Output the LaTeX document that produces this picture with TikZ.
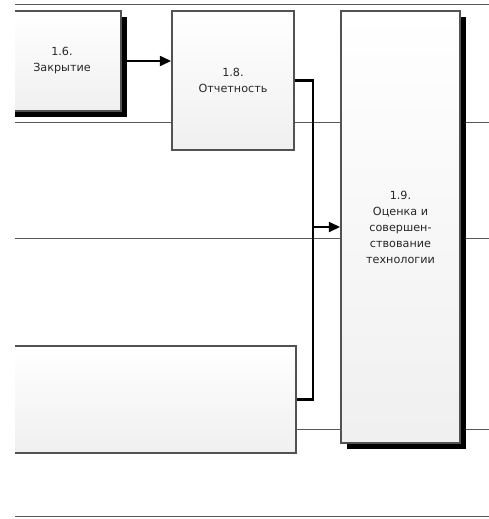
\documentclass[tikz,border=0pt]{standalone}
\usepackage{fontspec}
\setmainfont{DejaVu Sans}
\usetikzlibrary{arrows.meta,shadows}
\begin{document}
\begin{tikzpicture}[x=0.75pt,y=-0.75pt,
  lane/.style={draw=black!65,line width=0.75pt},
  box/.style={draw=black!68,line width=1.3pt,top color=white,bottom color=black!6,
    inner sep=0pt,align=center,font=\fontsize{8.4}{12}\selectfont,text=black!85},
  shad/.style={drop shadow={shadow xshift=4.5pt,shadow yshift=-4.5pt,fill=black,opacity=1}},
  conn/.style={draw=black,line width=1.6pt},
  arr/.style={conn,-{Triangle[length=8.5pt,width=7.5pt]}}]
\useasboundingbox (0,0) rectangle (489,519);
\clip (15,0) rectangle (489,519);
% lanes
\draw[lane] (15,4) coordinate (l1a) -- (489,4) coordinate (l1b);
\draw[lane] (15,122) coordinate (l2a) -- (489,122) coordinate (l2b);
\draw[lane] (15,238) coordinate (l3a) -- (489,238) coordinate (l3b);
\draw[lane] (15,429) coordinate (l4a) -- (489,429) coordinate (l4b);
\draw[lane] (15,516) coordinate (l5a) -- (489,516) coordinate (l5b);
% boxes
\node[box,shad,minimum width=118*0.75pt,minimum height=100*0.75pt] (b16) at (62,61) {1.6.\\Закрытие};
\node[box,minimum width=122*0.75pt,minimum height=139*0.75pt] (b18) at (233,80.5) {1.8.\\Отчетность};
\node[box,shad,minimum width=119*0.75pt,minimum height=432*0.75pt] (b19) at (400.5,227) {1.9.\\Оценка и\\совершен-\\ствование\\технологии};
\node[box,minimum width=346*0.75pt,minimum height=107*0.75pt] (bb) at (123,399.5) {};
% connectors
\coordinate (j1) at (313,80.5);
\coordinate (j2) at (313,399.5);
\draw[arr] (b16.east) -- (b18.west |- b16.east);
\draw[conn] (b18.east) -- (j1) -- (j2) -- (bb.east);
\draw[arr] (j1 |- b19.west) -- (b19.west);
\end{tikzpicture}
\end{document}
